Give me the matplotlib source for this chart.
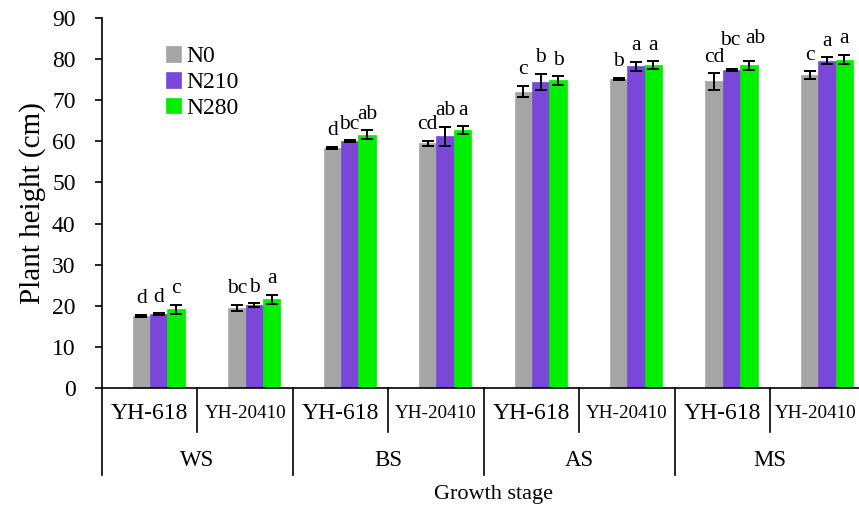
import numpy as np
import matplotlib
matplotlib.use("Agg")
import matplotlib.pyplot as plt
import matplotlib.transforms as mtransforms

plt.rcParams['font.family'] = ['Liberation Serif', 'DejaVu Serif']

stages = ["WS", "BS", "AS", "MS"]
varieties = ["YH-618", "YH-20410"]
treatments = ["N0", "N210", "N280"]
colors = ["#a5a5a5", "#7a48d9", "#00ee00"]

# mean plant height, one list per treatment, order: WS-618, WS-20410, BS-618, ...
n0 = [17.5, 19.5, 58.4, 59.5, 72.1, 75.1, 74.6, 76.1]
n210 = [18.0, 20.2, 60.1, 61.2, 74.4, 78.2, 77.4, 79.6]
n280 = [19.1, 21.6, 61.6, 62.7, 74.8, 78.5, 78.5, 79.9]
err_n0 = [0.3, 0.8, 0.3, 0.6, 1.4, 0.3, 2.0, 1.0]
err_n210 = [0.2, 0.4, 0.2, 2.3, 2.0, 1.1, 0.2, 0.8]
err_n280 = [1.1, 1.1, 1.1, 1.0, 1.0, 1.0, 1.1, 1.1]
let_n0 = ["d", "bc", "d", "cd", "c", "b", "cd", "c"]
let_n210 = ["d", "b", "bc", "ab", "b", "a", "bc", "a"]
let_n280 = ["c", "a", "ab", "a", "b", "a", "ab", "a"]

means = [n0, n210, n280]
errs = [err_n0, err_n210, err_n280]
letters = [let_n0, let_n210, let_n280]

# label nudges (dx in bar units, dy in cm) where the original letters sit off-centre
nudge = {(6, 1): (-0.01, 3.0), (6, 2): (0.07, 1.6)}

fig = plt.figure(figsize=(8.59, 5.08), dpi=100)
ax = fig.add_axes([0.1187, 0.2362, 1 - 0.1187, 0.9646 - 0.2362])

x = np.arange(len(n0))
w = 0.182
shift = 0.095
for k in range(3):
    xs = x + shift + (k - 1) * w
    ax.bar(xs, means[k], width=w, color=colors[k], edgecolor=colors[k],
           linewidth=0.5, label=treatments[k], zorder=2)
    ax.errorbar(xs, means[k], yerr=errs[k], fmt="none", ecolor="black",
                elinewidth=1.4, capsize=4, capthick=1.4, zorder=3)
    for i, (xi, m, e, t) in enumerate(zip(xs, means[k], errs[k], letters[k])):
        dx, dy = nudge.get((i, k), (0, 0))
        ax.text(xi + dx, m + e + 2.8 + dy, t, ha="center", va="baseline", fontsize=15.5)

ax.set_ylim(0, 90)
ax.set_xlim(-0.5, 7.43)
ax.set_yticks(np.arange(0, 91, 10))
ax.tick_params(axis="y", direction="out", length=5, width=1.2, labelsize=17, pad=14)
ax.set_xticks([])
ax.spines["top"].set_visible(False)
ax.spines["right"].set_visible(False)
ax.spines["left"].set_linewidth(1.2)
ax.spines["bottom"].set_linewidth(1.2)
ax.set_ylabel("Plant height (cm)", fontsize=21, labelpad=4)

# category axis below the plot
tr = mtransforms.blended_transform_factory(ax.transData, ax.transAxes)
sub_low = -44 / 370
stage_low = -87 / 370
for i in range(len(n0)):
    edge = i + 0.5
    low = stage_low if (i % 2 == 1) else sub_low
    ax.plot([edge, edge], [0, low], color="black", lw=1.2, transform=tr, clip_on=False)
    fs = 17 if varieties[i % 2] == "YH-618" else 13.8
    ax.text(i - (0.02 if i == 7 else 0), -25 / 370, varieties[i % 2], ha="center",
            va="center", fontsize=fs, transform=tr)
ax.plot([-0.5, -0.5], [0, stage_low], color="black", lw=1.2, transform=tr, clip_on=False)
for j, s in enumerate(stages):
    ax.text(2 * j + 0.5, -72 / 370, s, ha="center", va="center", fontsize=16.5, transform=tr)
fig.text(0.575, 1 - 494 / 508, "Growth stage", ha="center", va="center", fontsize=16)

ax.legend(loc="upper left", bbox_to_anchor=(0.072, 0.95), frameon=False, fontsize=17,
          handlelength=0.65, handleheight=0.65, handletextpad=0.2, labelspacing=0.2,
          borderaxespad=0)

fig.savefig("out.png", dpi=100)
